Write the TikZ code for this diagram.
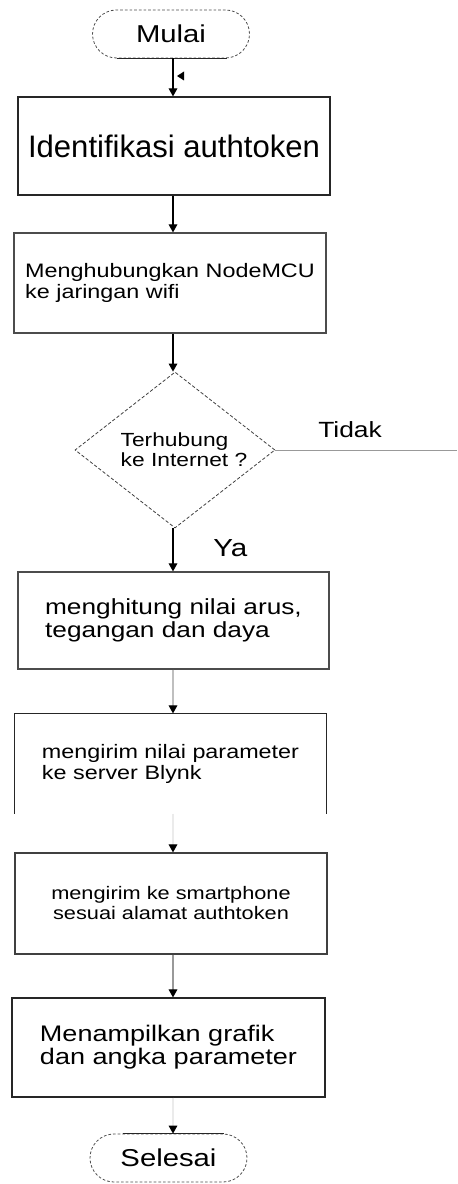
\documentclass[tikz,border=0pt]{standalone}
\usepackage{fontspec}
\setmainfont{Liberation Sans}
\newfontfamily\lsw[FakeStretch=1.2]{Liberation Sans}
\newfontfamily\lsn{Liberation Sans}
\usetikzlibrary{shapes.geometric,arrows.meta,calc}
\begin{document}
\begin{tikzpicture}[x=0.75pt,y=-0.75pt,
  boxst/.style={draw=black!85,line width=0.9pt,rectangle,inner sep=0pt,align=left},
  termst/.style={draw=black!70,dash pattern=on 2pt off 1.5pt,line width=0.6pt,rounded corners=18pt,
    minimum width=117.75pt,minimum height=36pt,inner sep=0pt,font=\lsw\fontsize{18.3}{22}\selectfont},
  diast/.style={diamond,draw=black!75,dash pattern=on 2.5pt off 1.5pt,line width=0.6pt,
    minimum width=150pt,minimum height=117pt,inner sep=0pt},
  arr/.style={draw=#1,line width=0.8pt,-{Triangle[length=6pt,width=6.5pt,color=black]}},
  arr/.default=black,
  lbl/.style={inner sep=0pt}]
\useasboundingbox (0,0) rectangle (457,1184);
\coordinate (spine) at (173,0);

% terminals
\node[termst] (mulai) at (171,34) {Mulai};
\draw[black!85,line width=0.8pt] ($(mulai.south)+(-54,0)$) -- ($(mulai.south)+(56,0)$);

% boxes
\node[boxst,minimum width=234pt,minimum height=73.5pt,font=\lsn\fontsize{23.3}{26}\selectfont] (b1) at (174,146) {Identifikasi authtoken};
\node[boxst,draw=black!70,minimum width=234pt,minimum height=75pt,font=\lsw\fontsize{14.6}{15.5}\selectfont] (b2) at (170,283) {Menghubungkan NodeMCU\\ke jaringan wifi};
\node[diast] (d) at (175,450) {};
\node[lbl,align=left,font=\lsw\fontsize{14.25}{15}\selectfont] (dt) at (184,450) {Terhubung\\ke Internet ?};
\node[boxst,draw=black!70,minimum width=233.25pt,minimum height=72.75pt,font=\lsw\fontsize{16.4}{17.25}\selectfont] (b3) at (173.5,620.5) {menghitung nilai arus,\\tegangan dan daya};
\node[boxst,draw=none,minimum width=233.25pt,minimum height=74.25pt,font=\lsw\fontsize{14.6}{15.75}\selectfont] (b4) at (170.5,763.5) {mengirim nilai parameter\\ke server Blynk};
\draw[black!85,line width=0.9pt] (b4.south west) -- (b4.north west) -- (b4.north east) -- (b4.south east);
\node[boxst,draw=black!75,align=center,minimum width=234pt,minimum height=75.75pt,font=\lsw\fontsize{13.6}{15}\selectfont] (b5) at (171,903.5) {mengirim ke smartphone\\sesuai alamat authtoken};
\node[boxst,minimum width=234.75pt,minimum height=74.25pt,font=\lsw\fontsize{16.9}{17.25}\selectfont] (b6) at (168.5,1047.5) {Menampilkan grafik\\dan angka parameter};

\node[termst] (selesai) at (168.5,1158) {Selesai};
\draw[black!85,line width=0.8pt] ($(selesai.north)+(-46,0)$) -- ($(selesai.north)+(55,0)$);

% labels
\coordinate (tidakend) at (457,450);
\draw[black!40,line width=0.6pt] (d.east) -- (tidakend);
\node[lbl,anchor=base west,font=\lsw\fontsize{16.5}{18}\selectfont] (tidak) at (318,437) {Tidak};
\node[lbl,anchor=base west,font=\lsw\fontsize{18.5}{20}\selectfont] (ya) at (213,556) {Ya};

% connectors
\draw[arr] (mulai.south -| spine) -- (b1.north -| spine);
\fill[black] (177,76) -- (184,71.5) -- (184,80.5) -- cycle;
\draw[arr] (b1.south -| spine) -- (b2.north -| spine);
\draw[arr] (b2.south -| spine) -- (d.north -| spine);
\draw[arr] (d.south -| spine) -- (b3.north -| spine);
\draw[arr=black!25] (b3.south -| spine) -- (b4.north -| spine);
\draw[arr=black!8] (b4.south -| spine) -- (b5.north -| spine);
\draw[arr=black!40] (b5.south -| spine) -- (b6.north -| spine);
\draw[arr=black!8] (b6.south -| spine) -- (selesai.north -| spine);
\end{tikzpicture}
\end{document}
